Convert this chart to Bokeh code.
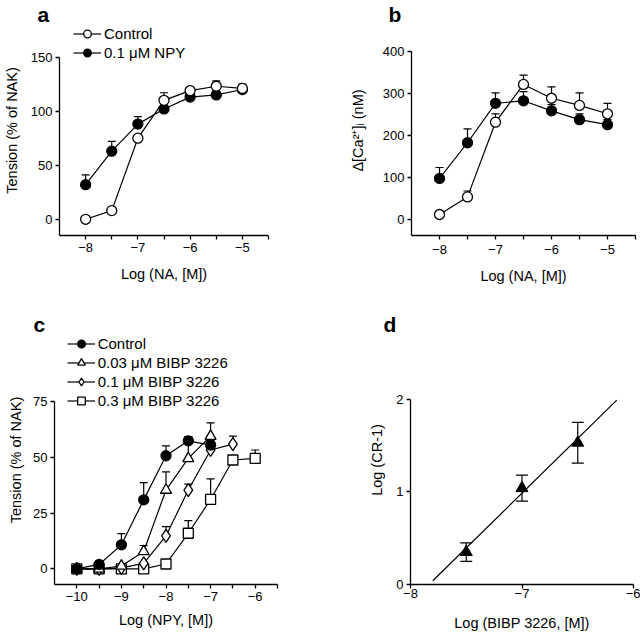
from bokeh.plotting import figure
from bokeh.layouts import column, row
from bokeh.models import FixedTicker, Legend, LegendItem, Range1d
from bokeh.embed import file_html
from bokeh.resources import INLINE

FONT = "Liberation Sans"

# ---------------- data ----------------
# panel a
a_x = [-8, -7.5, -7, -6.5, -6, -5.5, -5]
a_ctrl = [0, 8, 75, 110, 119, 123, 121]
a_ctrl_err = [0, 0, 0, 7, 0, 5, 4]
a_npy = [32, 63, 88, 102, 113, 115, 120]
a_npy_err = [9, 9, 7, 0, 0, 0, 0]

# panel b
b_x = [-8, -7.5, -7, -6.5, -6, -5.5, -5]
b_ctrl = [12, 54, 232, 322, 289, 272, 252]
b_ctrl_err = [0, 14, 20, 22, 27, 30, 25]
b_npy = [98, 183, 277, 283, 259, 238, 226]
b_npy_err = [26, 33, 25, 22, 15, 14, 12]

# panel c
c_x_ctrl = [-10, -9.5, -9, -8.5, -8, -7.5, -7]
c_ctrl = [0, 2, 10.8, 31, 50.8, 57.5, 55.6]
c_ctrl_err = [0, 0, 5, 7.7, 4.4, 1.8, 2]
c_x_003 = [-10, -9.5, -9, -8.5, -8, -7.5, -7]
c_003 = [0, 0, 1.3, 7.8, 35.4, 49.6, 59.6]
c_003_err = [0, 0, 0, 2.7, 8.2, 9.7, 6]
c_x_01 = [-10, -9.5, -9, -8.5, -8, -7.5, -7, -6.5]
c_01 = [0, 0, 0.5, 2.5, 14.8, 35.4, 53.4, 56]
c_01_err = [0, 0, 0, 0, 4.2, 2.7, 0, 3.6]
c_x_03 = [-10, -9.5, -9, -8.5, -8, -7.5, -7, -6.5, -6]
c_03 = [0, 0, 0, 0, 2.2, 16, 31.2, 48.9, 49.6]
c_03_err = [0, 0, 0, 0, 0, 5.7, 9.2, 0, 3.8]

# panel d
d_x = [-7.5, -7, -6.5]
d_y = [0.35, 1.04, 1.53]
d_err = [0.10, 0.14, 0.22]
d_fit_x = [-7.8, -6.15]
d_fit_y = [0.04, 1.99]


def make_fig(letter, title_offset, width, height, xr, yr, ybounds, xticks, xminor, yticks,
             xlabel, ylabel, borders, xstand, ystand, xlab_stand=3):
    p = figure(width=width, height=height, x_range=Range1d(*xr), y_range=Range1d(*yr),
               output_backend="svg", toolbar_location=None, title=letter,
               min_border_left=borders[0], min_border_right=borders[1],
               min_border_top=0, min_border_bottom=borders[2])
    t = p.title
    t.align = "left"
    t.offset = title_offset
    t.text_font = FONT
    t.text_font_size = "21px"
    t.text_font_style = "bold"
    t.text_color = "black"
    try:
        t.standoff = 0
    except Exception:
        pass
    p.outline_line_color = None
    p.xgrid.visible = False
    p.ygrid.visible = False
    p.xaxis.ticker = FixedTicker(ticks=xticks, minor_ticks=xminor)
    p.yaxis.ticker = FixedTicker(ticks=yticks, minor_ticks=[])
    p.yaxis.bounds = ybounds
    p.xaxis.axis_label = xlabel
    p.yaxis.axis_label = ylabel
    for ax in (p.xaxis[0], p.yaxis[0]):
        ax.major_tick_in = 0
        ax.major_tick_out = 4
        ax.minor_tick_in = 0
        ax.minor_tick_out = 4
        ax.axis_line_width = 1.3
        ax.major_tick_line_width = 1.3
        ax.minor_tick_line_width = 1.3
        ax.axis_line_color = "black"
        ax.major_tick_line_color = "black"
        ax.minor_tick_line_color = "black"
        ax.major_label_text_font = FONT
        ax.major_label_text_font_size = "13px"
        ax.major_label_text_color = "black"
        ax.axis_label_text_font = FONT
        ax.axis_label_text_font_size = "14.5px"
        ax.axis_label_text_font_style = "normal"
        ax.axis_label_text_color = "black"
    p.yaxis.major_label_standoff = 3
    p.xaxis.major_label_standoff = xlab_stand
    p.xaxis.axis_label_standoff = xstand
    p.yaxis.axis_label_standoff = ystand
    return p


def err_up(p, xs, ys, es, cap=8):
    ex = [x for x, e in zip(xs, es) if e > 0]
    ey0 = [y for y, e in zip(ys, es) if e > 0]
    ey1 = [y + e for y, e in zip(ys, es) if e > 0]
    p.segment(ex, ey0, ex, ey1, line_color="black", line_width=1.2)
    p.scatter(ex, ey1, marker="dash", size=cap, line_color="black", line_width=1.2)


def series(p, xs, ys, es, marker, fill, size=10):
    err_up(p, xs, ys, es)
    ln = p.line(xs, ys, line_color="black", line_width=1.2)
    sc = p.scatter(xs, ys, marker=marker, size=size, fill_color=fill,
                   line_color="black", line_width=1.3)
    return ln, sc


def add_legend(p, items, loc):
    lg = Legend(items=items, location=loc)
    lg.glyph_width = 28
    lg.glyph_height = 19
    lg.label_height = 19
    lg.spacing = 0
    lg.padding = 0
    lg.margin = 0
    lg.label_standoff = 3
    lg.border_line_color = None
    lg.background_fill_alpha = 0
    lg.label_text_font = FONT
    lg.label_text_font_size = "15px"
    lg.label_text_color = "black"
    p.add_layout(lg)


# ---------------- panel a ----------------
pa = make_fig("a", -22, 320, 310, (-8.5, -4.5), (-15, 179.2), (-15, 150),
              [-8, -7, -6, -5], [-7.5, -6.5, -5.5, -4.5], [0, 50, 100, 150],
              "Log (NA, [M])", "Tension (% of NAK)", (54, 52, 75), 11, 8, 3)
l1, s1 = series(pa, a_x, a_npy, a_npy_err, "circle", "black")
l2, s2 = series(pa, a_x, a_ctrl, a_ctrl_err, "circle", "white")
add_legend(pa, [LegendItem(label="Control", renderers=[l2, s2]),
                LegendItem(label="0.1 μM NPY", renderers=[l1, s1])], (14, 173))

# ---------------- panel b ----------------
pb = make_fig("b", -23, 320, 310, (-8.5, -4.5), (-38, 462.4), (-38, 400),
              [-8, -7, -6, -5], [-7.5, -6.5, -5.5, -4.5], [0, 100, 200, 300, 400],
              "Log (NA, [M])", "Δ[Ca²⁺]ᵢ (nM)", (91, 5, 72), 11, 14, 5)
series(pb, b_x, b_npy, b_npy_err, "circle", "black")
series(pb, b_x, b_ctrl, b_ctrl_err, "circle", "white")

# ---------------- panel c ----------------
pc = make_fig("c", -21, 320, 326, (-10.5, -5.5), (-7, 104.8), (-7, 75),
              [-10, -9, -8, -7, -6], [-9.5, -8.5, -7.5, -6.5, -5.5], [0, 25, 50, 75],
              "Log (NPY, [M])", "Tension (% of NAK)", (54, 43, 52), 8, 6, 3)
ls3, ss3 = series(pc, c_x_03, c_03, c_03_err, "square", "white", 10)
ls2, ss2 = series(pc, c_x_01, c_01, c_01_err, "diamond", "white", 13)
ls1, ss1 = series(pc, c_x_003, c_003, c_003_err, "triangle", "white", 11)
ls0, ss0 = series(pc, c_x_ctrl, c_ctrl, c_ctrl_err, "circle", "black", 10)
add_legend(pc, [LegendItem(label="Control", renderers=[ls0, ss0]),
                LegendItem(label="0.03 μM BIBP 3226", renderers=[ls1, ss1]),
                LegendItem(label="0.1 μM BIBP 3226", renderers=[ls2, ss2]),
                LegendItem(label="0.3 μM BIBP 3226", renderers=[ls3, ss3])], (12.7, 174))

# ---------------- panel d ----------------
pd = make_fig("d", -27, 320, 326, (-8, -6), (0, 2.687), (0, 2),
              [-8, -7, -6], [], [0, 1, 2],
              "Log (BIBP 3226, [M])", "Log (CR-1)", (90, 7, 51), 14, 8, 0)
pd.line(d_fit_x, d_fit_y, line_color="black", line_width=1.2)
lo = [y - e for y, e in zip(d_y, d_err)]
hi = [y + e for y, e in zip(d_y, d_err)]
pd.segment(d_x, lo, d_x, hi, line_color="black", line_width=1.2)
pd.scatter(d_x, lo, marker="dash", size=12, line_color="black", line_width=1.2)
pd.scatter(d_x, hi, marker="dash", size=12, line_color="black", line_width=1.2)
pd.scatter(d_x, d_y, marker="triangle", size=12, fill_color="black", line_color="black")

layout = column(row(pa, pb), row(pc, pd))
open("out.html", "w").write(file_html(layout, INLINE))
